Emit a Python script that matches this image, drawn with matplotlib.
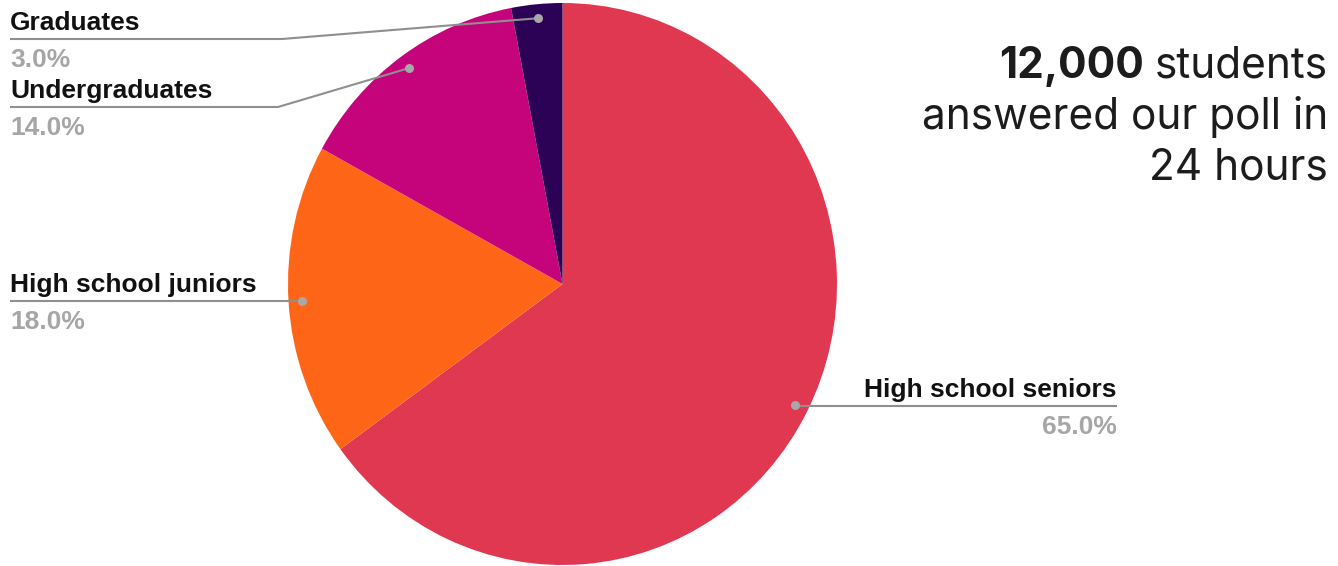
import numpy as np
import matplotlib
matplotlib.use("Agg")
import matplotlib.pyplot as plt

W, H = 1338, 566

# poll breakdown, clockwise from 12 o'clock
groups = ["High school seniors", "High school juniors", "Undergraduates", "Graduates"]
shares = [65.0, 18.0, 14.0, 3.0]
colors = ["#E13852", "#FF6517", "#C5037A", "#2C0257"]

total_students = "12,000"
headline_rest = ["students", "answered our poll in", "24 hours"]

# label layout: side, y of the underline, x where the leader leaves the underline
label_side = ["right", "left", "left", "left"]
label_line_y = [406, 301, 107, 39]
label_elbow_x = [None, None, 278, 282]

LABEL_FONT = ["Liberation Sans", "DejaVu Sans"]
HEAD_FONT = ["Inter", "DejaVu Sans"]
LINE_GRAY = "#8f8f8f"
PCT_GRAY = "#a6a6a6"

fig = plt.figure(figsize=(W / 100, H / 100), dpi=100)
fig.patch.set_facecolor("white")

# pie area in pixels: x 288..837, y 3..565
px0, px1, py0, py1 = 288, 837, 3, 565
ax = fig.add_axes([px0 / W, (H - py1) / H, (px1 - px0) / W, (py1 - py0) / H])
wedges, _ = ax.pie(shares, colors=colors, startangle=90, counterclock=False,
                   radius=1.0, wedgeprops=dict(linewidth=0))
ax.set_aspect("auto")
ax.set_xlim(-1, 1)
ax.set_ylim(-1, 1)
ax.axis("off")

ov = fig.add_axes([0, 0, 1, 1], zorder=5)
ov.set_xlim(0, W)
ov.set_ylim(H, 0)
ov.axis("off")
ov.patch.set_alpha(0)

# dot positions at 95% radius along each wedge's mid angle
cum = np.cumsum([0] + shares[:-1])
for i, (name, val) in enumerate(zip(groups, shares)):
    mid = 90 - (cum[i] + val / 2) / sum(shares) * 360
    t = np.deg2rad(mid)
    dx, dy = ax.transData.transform((0.95 * np.cos(t), 0.95 * np.sin(t)))
    dot = (dx, H - dy)
    ly = label_line_y[i]

    if label_side[i] == "left":
        x_text = 10
        elbow = label_elbow_x[i] if label_elbow_x[i] is not None else dot[0]
        xs = [x_text, elbow, dot[0]]
        ha = "left"
    else:
        x_text = 1117
        xs = [x_text, dot[0], dot[0]]
        ha = "right"
    ys = [ly, ly, dot[1]]
    ov.plot(xs, ys, color=LINE_GRAY, lw=1.5, solid_capstyle="butt", zorder=4)
    ov.plot(dot[0], dot[1], "o", ms=6.5, color="#a8a8a8", mec="none", zorder=6)

    ov.text(x_text, ly - 9, name, ha=ha, va="baseline", fontsize=19,
            fontweight="bold", color="#111111", family=LABEL_FONT)
    ov.text(x_text, ly + 28, f"{val:.1f}%", ha=ha, va="baseline", fontsize=19,
            fontweight="bold", color=PCT_GRAY, family=LABEL_FONT)

# headline, right aligned
right_x = 1328
base_y = [78, 129, 180]
head_kw = dict(fontsize=30.5, color="#1c1c1c", family=HEAD_FONT, va="baseline")
first = ov.text(right_x, base_y[0], headline_rest[0], ha="right", **head_kw)
for txt, y in zip(headline_rest[1:], base_y[1:]):
    ov.text(right_x, y, txt, ha="right", **head_kw)

fig.canvas.draw()
bb = first.get_window_extent()
ov.text(bb.x0 - 11, base_y[0], total_students, ha="right", fontweight="bold", **head_kw)

fig.savefig("out.png", dpi=100, facecolor="white")
